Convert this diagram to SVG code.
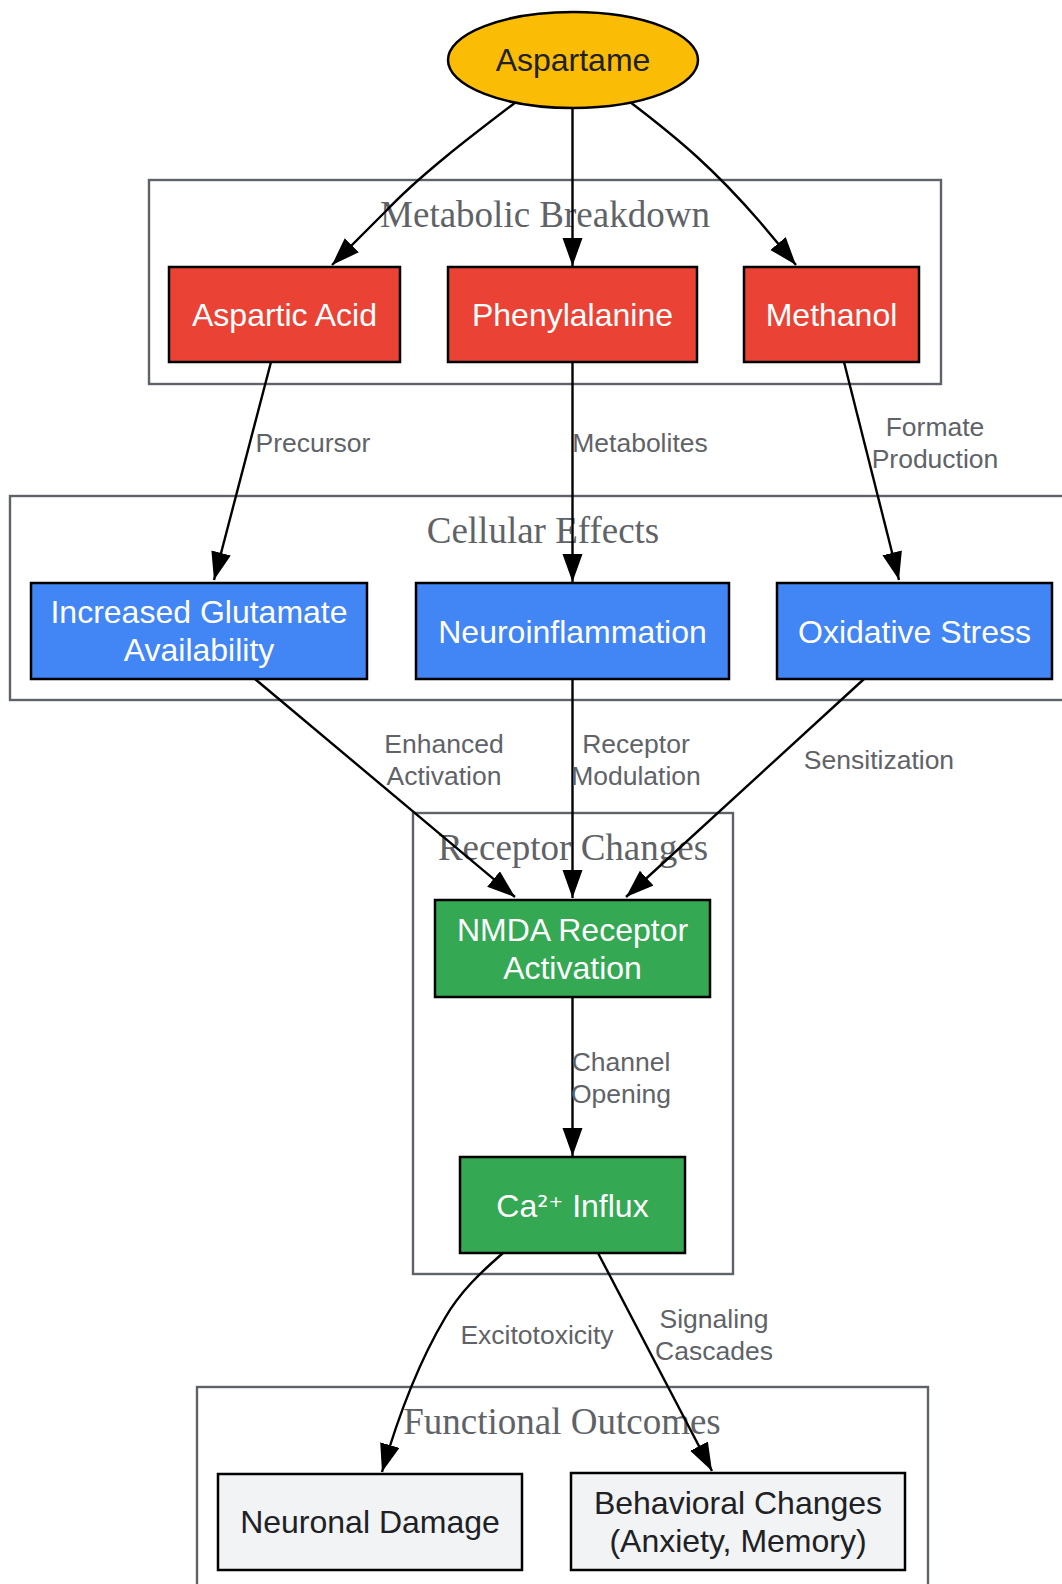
<svg xmlns="http://www.w3.org/2000/svg" width="1062" height="1584" viewBox="0 0 1062 1584">
<style>
.cl{fill:#ffffff;stroke:#5f6368;stroke-width:2.4}
.ct{font-family:"Liberation Serif","Times New Roman",serif;font-size:37px;fill:#5f6368;text-anchor:middle;dominant-baseline:central}
.nd{stroke:#000000;stroke-width:2.5}
.red{fill:#EA4335}.blue{fill:#4285F4}.green{fill:#34A853}.gray{fill:#F1F3F4}.yel{fill:#FBBC05}
.nt{font-family:"Liberation Sans",Arial,sans-serif;font-size:32px;text-anchor:middle;dominant-baseline:central}
.sup{font-family:"DejaVu Sans",sans-serif;font-size:28px}
.w{fill:#ffffff}.k{fill:#202124}
.e{fill:none;stroke:#000000;stroke-width:2.4;marker-end:url(#ah)}
.el{font-family:"Liberation Sans",Arial,sans-serif;font-size:26.5px;fill:#5f6368;text-anchor:middle;dominant-baseline:central}
</style>
<defs>
<marker id="ah" markerUnits="userSpaceOnUse" markerWidth="30" markerHeight="22" refX="28" refY="10" orient="auto">
<path d="M0,0 L28,10 L0,20 z" fill="#000000"/>
</marker>
</defs>
<rect width="1062" height="1584" fill="#ffffff"/>
<g id="clusters">
<g id="cluster-metabolic"><rect class="cl" x="149" y="180" width="792" height="204"/><text class="ct" x="545" y="214">Metabolic Breakdown</text></g>
<g id="cluster-cellular"><rect class="cl" x="10" y="496" width="1070" height="204"/><text class="ct" x="543" y="530">Cellular Effects</text></g>
<g id="cluster-receptor"><rect class="cl" x="413" y="813" width="320" height="461"/><text class="ct" x="573" y="847">Receptor Changes</text></g>
<g id="cluster-functional"><rect class="cl" x="197" y="1387" width="731" height="220"/><text class="ct" x="562" y="1421">Functional Outcomes</text></g>
</g>
<g id="edges">
<path class="e" d="M516,102 C470,137 420,175 385,212 L332,265"/>
<path class="e" d="M572.5,108 L572.5,266"/>
<path class="e" d="M630,102 C680,140 715,170 760,222 L796,265"/>
<path class="e" d="M271,362 L214,580"/>
<path class="e" d="M572.5,362 L572.5,582"/>
<path class="e" d="M844,362 L899,580"/>
<path class="e" d="M255,679 L515,897"/>
<path class="e" d="M572.5,679 L572.5,898"/>
<path class="e" d="M864,679 L626,897"/>
<path class="e" d="M572.5,997 L572.5,1156"/>
<path class="e" d="M503,1253 C480,1273 460,1292 445,1318 C420,1360 400,1410 382,1472"/>
<path class="e" d="M598,1253 L712,1471"/>
</g>
<g id="edge-labels">
<text class="el" x="313" y="443">Precursor</text>
<text class="el" x="640" y="443">Metabolites</text>
<text class="el" x="935" y="427">Formate</text>
<text class="el" x="935" y="459">Production</text>
<text class="el" x="444" y="744">Enhanced</text>
<text class="el" x="444" y="776">Activation</text>
<text class="el" x="636" y="744">Receptor</text>
<text class="el" x="636" y="776">Modulation</text>
<text class="el" x="879" y="760">Sensitization</text>
<text class="el" x="621" y="1062">Channel</text>
<text class="el" x="621" y="1094">Opening</text>
<text class="el" x="537" y="1335">Excitotoxicity</text>
<text class="el" x="714" y="1319">Signaling</text>
<text class="el" x="714" y="1351">Cascades</text>
</g>
<g id="node-aspartame"><ellipse class="nd yel" cx="573" cy="60" rx="125" ry="48"/><text class="nt k" x="573" y="60">Aspartame</text></g>
<g id="node-aspartic"><rect class="nd red" x="169" y="267" width="231" height="95"/><text class="nt w" x="284.5" y="315">Aspartic Acid</text></g>
<g id="node-phenylalanine"><rect class="nd red" x="448" y="267" width="249" height="95"/><text class="nt w" x="572.5" y="315">Phenylalanine</text></g>
<g id="node-methanol"><rect class="nd red" x="744" y="267" width="175" height="95"/><text class="nt w" x="831.5" y="315">Methanol</text></g>
<g id="node-glutamate"><rect class="nd blue" x="31" y="583" width="336" height="96"/><text class="nt w" x="199" y="612">Increased Glutamate</text><text class="nt w" x="199" y="650">Availability</text></g>
<g id="node-neuroinflammation"><rect class="nd blue" x="416" y="583" width="313" height="96"/><text class="nt w" x="572.5" y="632">Neuroinflammation</text></g>
<g id="node-oxidative"><rect class="nd blue" x="777" y="583" width="275" height="96"/><text class="nt w" x="914.5" y="632">Oxidative Stress</text></g>
<g id="node-nmda"><rect class="nd green" x="435" y="900" width="275" height="97"/><text class="nt w" x="572.5" y="930">NMDA Receptor</text><text class="nt w" x="572.5" y="968">Activation</text></g>
<g id="node-calcium"><rect class="nd green" x="460" y="1157" width="225" height="96"/><text class="nt w" x="572.5" y="1206">Ca<tspan class="sup">²⁺</tspan> Influx</text></g>
<g id="node-neuronal"><rect class="nd gray" x="218" y="1474" width="304" height="96"/><text class="nt k" x="370" y="1522">Neuronal Damage</text></g>
<g id="node-behavioral"><rect class="nd gray" x="571" y="1473" width="334" height="97"/><text class="nt k" x="738" y="1503">Behavioral Changes</text><text class="nt k" x="738" y="1541">(Anxiety, Memory)</text></g>
</svg>
